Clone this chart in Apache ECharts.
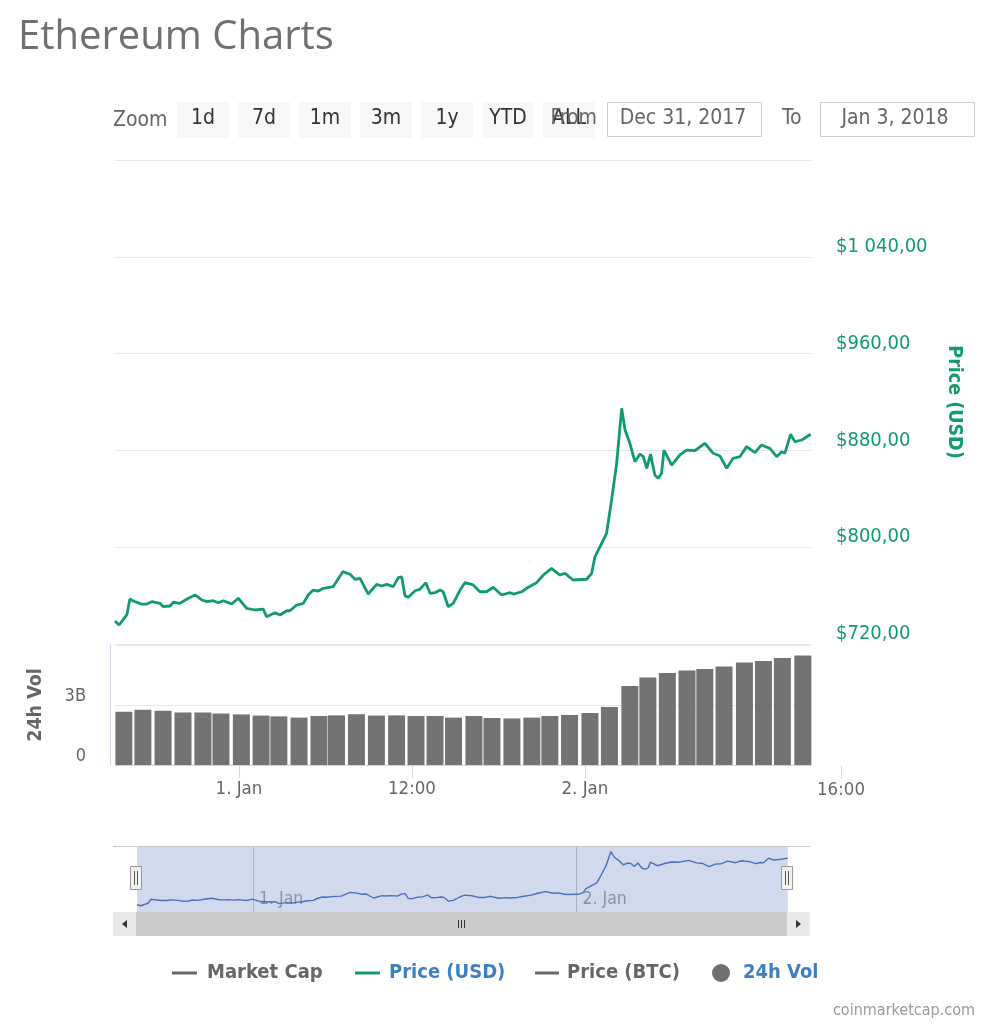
<!DOCTYPE html>
<html>
<head>
<meta charset="utf-8">
<script src="https://cdn.jsdelivr.net/npm/echarts@6/dist/echarts.min.js"></script>
<style>
html,body{margin:0;padding:0;background:#fff;}
#chart{width:991px;height:1024px;}
</style>
</head>
<body>
<div id="chart"></div>
<script>
// ---------- data ----------
const priceTimes = [
 '12-31 15:24','12-31 15:41','12-31 16:13','12-31 16:26','12-31 16:40','12-31 17:15','12-31 17:36','12-31 17:57','12-31 18:31','12-31 18:45','12-31 19:13','12-31 19:27','12-31 19:54','12-31 20:29','12-31 20:57','12-31 21:25','12-31 21:46','12-31 22:13','12-31 22:34','12-31 22:55','12-31 23:30','12-31 23:57',
 '01-01 00:32','01-01 01:07','01-01 01:41','01-01 01:55','01-01 02:30','01-01 02:51','01-01 03:19','01-01 03:32','01-01 04:00','01-01 04:28','01-01 04:48','01-01 05:09','01-01 05:30','01-01 05:51','01-01 06:32','01-01 07:12','01-01 07:42','01-01 08:03','01-01 08:24','01-01 08:58','01-01 09:33','01-01 09:54','01-01 10:15','01-01 10:42','01-01 11:03','01-01 11:17','01-01 11:31','01-01 11:45','01-01 12:13','01-01 12:33','01-01 12:58','01-01 13:15','01-01 13:36','01-01 13:57','01-01 14:10','01-01 14:31','01-01 14:52','01-01 15:20','01-01 15:41','01-01 16:15','01-01 16:43','01-01 17:11','01-01 17:38','01-01 18:13','01-01 18:48','01-01 19:02','01-01 19:37','01-01 20:04','01-01 20:39','01-01 21:07','01-01 21:41','01-01 22:16','01-01 22:37','01-01 23:11',
 '01-02 00:07','01-02 00:28','01-02 00:42','01-02 01:03','01-02 01:30','01-02 01:51','01-02 02:12','01-02 02:33','01-02 02:47','01-02 03:07','01-02 03:28','01-02 03:49','01-02 04:03','01-02 04:17','01-02 04:33','01-02 04:51','01-02 05:05','01-02 05:19','01-02 05:29','01-02 06:01','01-02 06:35','01-02 07:03','01-02 07:38','01-02 08:19','01-02 08:54','01-02 09:22','01-02 09:50','01-02 10:17','01-02 10:45','01-02 11:13','01-02 11:48','01-02 12:15','01-02 12:50','01-02 13:18','01-02 13:39','01-02 13:52','01-02 14:16','01-02 14:34','01-02 15:02','01-02 15:40'
];
const pricesUSD = [
 739, 735.7, 744, 757.2, 755.5, 753, 753, 755, 753.6, 750.8, 751.4, 754.5, 753.6, 757.8, 760.5, 756.4, 755, 755.8, 754.1, 755.8, 753, 757.8,
 749.5, 748.1, 748.9, 742.6, 745.9, 744, 747.5, 747.5, 752.2, 753.6, 760.5, 764.6, 763.8, 766, 767.4, 779.8, 777.6, 773.5, 774.3, 761.3, 769.3, 767.9, 769.3, 767.4, 774.8, 775.6, 759.9, 758.6, 764, 765.2, 770.7, 761.9, 762.4, 764.6, 763.2, 750.8, 753.6, 764.6, 770.7, 768.8, 763.2, 763.2, 766.9, 760.5, 762.4, 761.3, 763.2, 766.9, 770.7, 777, 782.5, 777, 778.4, 772.9,
 773.5, 778.4, 792.2, 800.4, 811.5, 839, 869.3, 914.8, 896.9, 885.9, 870.7, 877, 874.8, 865.2, 877, 859.7, 857, 861, 880.3, 867.9, 876.2, 880.3, 879.8, 885.9, 877.6, 875.4, 865.2, 873.5, 874.8, 883.1, 878.1, 884.5, 881.7, 874.8, 878.9, 877.6, 893.3, 887.2, 888.6, 893.3
];
const volTimes = [
 '12-31 16:01','12-31 17:20','12-31 18:44','12-31 20:07','12-31 21:30','12-31 22:45',
 '01-01 00:10','01-01 01:32','01-01 02:46','01-01 04:10','01-01 05:33','01-01 06:46','01-01 08:09','01-01 09:32','01-01 10:56','01-01 12:17','01-01 13:36','01-01 14:53','01-01 16:18','01-01 17:33','01-01 18:56','01-01 20:19','01-01 21:34','01-01 22:56',
 '01-02 00:21','01-02 01:42','01-02 03:07','01-02 04:22','01-02 05:43','01-02 07:05','01-02 08:19','01-02 09:39','01-02 11:04','01-02 12:23','01-02 13:42','01-02 15:07'
];
const volumesB = [
 2.66, 2.76, 2.71, 2.63, 2.63, 2.58,
 2.53, 2.47, 2.43, 2.37, 2.45, 2.48, 2.54, 2.47, 2.48, 2.45, 2.45, 2.37, 2.45, 2.35, 2.33, 2.37, 2.45, 2.5,
 2.6, 2.9, 3.95, 4.37, 4.6, 4.73, 4.8, 4.93, 5.13, 5.2, 5.35, 5.48
];
const xTicks = ['01-01 00:00','01-01 12:00','01-02 00:00'];
const xTickLabels = ['1. Jan','12:00','2. Jan'];
const navTicks = ['01-01 00:00','01-02 00:00'];
const navTickLabels = ['1. Jan','2. Jan'];
const rangeButtons = ['1d','7d','1m','3m','1y','YTD','ALL'];
const legendItems = ['Market Cap','Price (USD)','Price (BTC)','24h Vol'];

// ---------- helpers ----------
function T(s){
  const [md, hm] = s.split(' ');
  const [mo, d] = md.split('-').map(Number);
  const [h, mi] = hm.split(':').map(Number);
  return new Date(mo === 12 ? 2017 : 2018, mo - 1, d, h, mi).getTime();
}
const priceData = priceTimes.map((t, i) => [T(t), pricesUSD[i]]);
const volData = volTimes.map((t, i) => [T(t), volumesB[i]]);
const xTickVals = xTicks.map(T);
const navTickVals = navTicks.map(T);
function usd(v){
  const s = String(Math.round(v)).replace(/\B(?=(\d{3})+(?!\d))/g, '\u00a0');
  return '$' + s + ',00';
}
function labelFor(vals, labels){
  return v => { const i = vals.findIndex(t => Math.abs(t - v) < 1000); return i >= 0 ? labels[i] : ''; };
}

const GREEN = '#119c6f';
const BLUE = '#3e7fc1';
const FONT = 'DejaVu Sans Condensed, DejaVu Sans, sans-serif';
const xMin = T('12-31 15:24'), xMax = T('01-02 15:41');

const chart = echarts.init(document.getElementById('chart'), null, {renderer: 'canvas'});

// toolbar graphics
const g = [];
const TB = '21px ' + FONT;
g.push({type:'text', left:18, top:18, style:{text:'Ethereum Charts', fill:'#707070', font:'40px "Open Sans", sans-serif'}});
g.push({type:'text', x:113, y:121, style:{text:'Zoom', fill:'#666', font:TB, verticalAlign:'middle', align:'left'}});
rangeButtons.forEach((b, i) => {
  const x = 177 + i * 61;
  g.push({type:'rect', shape:{x:x, y:102, width:52, height:36}, style:{fill:'#f7f7f7'}});
  g.push({type:'text', x:x + 26, y:119, style:{text:b, fill:'#333', font:TB, align:'center', verticalAlign:'middle'}});
});
g.push({type:'text', x:597, y:119, style:{text:'From', fill:'#666', font:TB, align:'right', verticalAlign:'middle'}, z:10});
g.push({type:'rect', shape:{x:607.5, y:102.5, width:154, height:34}, style:{fill:'#fff', stroke:'#cccccc', lineWidth:1}});
g.push({type:'text', x:683, y:119, style:{text:'Dec 31, 2017', fill:'#666', font:TB, align:'center', verticalAlign:'middle'}});
g.push({type:'text', x:782, y:119, style:{text:'To', fill:'#666', font:TB, align:'left', verticalAlign:'middle'}});
g.push({type:'rect', shape:{x:820.5, y:102.5, width:154, height:34}, style:{fill:'#fff', stroke:'#cccccc', lineWidth:1}});
g.push({type:'text', x:895, y:119, style:{text:'Jan 3, 2018', fill:'#666', font:TB, align:'center', verticalAlign:'middle'}});

// the stray end label of the time axis
g.push({type:'line', shape:{x1:841.5, y1:766, x2:841.5, y2:779}, style:{stroke:'#ccd6eb', lineWidth:1}});
g.push({type:'text', x:841, y:790, style:{text:'16:00', fill:'#666', font:'18.5px ' + FONT, align:'center', verticalAlign:'middle'}});

// navigator frame, handles, scrollbar
g.push({type:'line', shape:{x1:113, y1:846.5, x2:810, y2:846.5}, style:{stroke:'#c8c8c8', lineWidth:1}, z:20});
[136, 787].forEach(hx => {
  g.push({type:'rect', shape:{x:hx - 5.5, y:866.5, width:11, height:23}, style:{fill:'#f2f2f2', stroke:'#999', lineWidth:1}, z:30});
  g.push({type:'line', shape:{x1:hx - 1.5, y1:871, x2:hx - 1.5, y2:885}, style:{stroke:'#555', lineWidth:1}, z:31});
  g.push({type:'line', shape:{x1:hx + 1.5, y1:871, x2:hx + 1.5, y2:885}, style:{stroke:'#555', lineWidth:1}, z:31});
});
g.push({type:'rect', shape:{x:113, y:912, width:697, height:24}, style:{fill:'#f2f2f2'}, z:20});
g.push({type:'rect', shape:{x:136, y:912, width:651, height:24}, style:{fill:'#cccccc'}, z:21});
g.push({type:'rect', shape:{x:113, y:912, width:23, height:24}, style:{fill:'#e8e8e8'}, z:21});
g.push({type:'rect', shape:{x:787, y:912, width:23, height:24}, style:{fill:'#e8e8e8'}, z:21});
g.push({type:'polygon', shape:{points:[[122,924],[127,920],[127,928]]}, style:{fill:'#333'}, z:22});
g.push({type:'polygon', shape:{points:[[801,924],[796,920],[796,928]]}, style:{fill:'#333'}, z:22});
[458.5, 461.5, 464.5].forEach(x => g.push({type:'line', shape:{x1:x, y1:920, x2:x, y2:928}, style:{stroke:'#333', lineWidth:1}, z:22}));

// legend
const legFont = 'bold 20px ' + FONT;
g.push({type:'line', shape:{x1:172, y1:973, x2:197, y2:973}, style:{stroke:'#666', lineWidth:3}});
g.push({type:'text', x:207, y:973, style:{text:legendItems[0], fill:'#666', font:legFont, verticalAlign:'middle'}});
g.push({type:'line', shape:{x1:355, y1:973, x2:380, y2:973}, style:{stroke:GREEN, lineWidth:3}});
g.push({type:'text', x:389, y:973, style:{text:legendItems[1], fill:BLUE, font:legFont, verticalAlign:'middle'}});
g.push({type:'line', shape:{x1:535, y1:973, x2:559, y2:973}, style:{stroke:'#666', lineWidth:3}});
g.push({type:'text', x:567, y:973, style:{text:legendItems[2], fill:'#666', font:legFont, verticalAlign:'middle'}});
g.push({type:'circle', shape:{cx:721, cy:973, r:9}, style:{fill:'#707070'}});
g.push({type:'text', x:743, y:973, style:{text:legendItems[3], fill:BLUE, font:legFont, verticalAlign:'middle'}});
g.push({type:'text', x:975, y:1011, style:{text:'coinmarketcap.com', fill:'#999', font:'16px ' + FONT, align:'right', verticalAlign:'middle'}});

const option = {
  animation: false,
  backgroundColor: '#fff',
  textStyle: {fontFamily: FONT},
  grid: [
    {left:115, right:180, top:160, height:484},
    {left:115, right:180, top:645, height:120},
    {left:113, right:181, top:847, height:65}
  ],
  xAxis: [
    {type:'value', gridIndex:0, min:xMin, max:xMax, show:false, splitLine:{show:false}},
    {type:'value', gridIndex:1, min:xMin, max:xMax,
     axisLine:{show:true, lineStyle:{color:'#ccd6eb'}},
     axisTick:{show:true, customValues:xTickVals, length:13, lineStyle:{color:'#ccd6eb'}},
     axisLabel:{customValues:xTickVals, color:'#666', fontSize:18.5, margin:15, fontFamily:FONT,
       formatter: labelFor(xTickVals, xTickLabels)},
     splitLine:{show:false}},
    {type:'value', gridIndex:2, min:T('12-31 13:37'), max:T('01-02 17:19'),
     axisLine:{show:false},
     axisTick:{show:true, customValues:navTickVals, inside:true, length:65, lineStyle:{color:'#c6c6c6'}},
     axisLabel:{customValues:navTickVals, inside:true, margin:4, align:'left', verticalAlign:'bottom',
       padding:[0,0,0,6], color:'#999', fontSize:17.5, fontFamily:FONT,
       formatter: labelFor(navTickVals, navTickLabels)},
     splitLine:{show:false}}
  ],
  yAxis: [
    {type:'value', gridIndex:0, position:'right', min:720, max:1120, interval:80,
     axisLine:{show:false}, axisTick:{show:false},
     splitLine:{show:true, lineStyle:{color:'#e6e6e6'}},
     axisLabel:{color:GREEN, fontSize:20, margin:25, align:'left', verticalAlign:'bottom', showMaxLabel:false, fontFamily:FONT,
       formatter: usd},
     name:'Price (USD)', nameLocation:'middle', nameRotate:-90, nameGap:133,
     nameTextStyle:{color:GREEN, fontWeight:'bold', fontSize:19.5, fontFamily:FONT}},
    {type:'value', gridIndex:1, position:'left', offset:5, min:0, max:6, interval:3,
     axisLine:{show:true, lineStyle:{color:'#ccd6eb'}}, axisTick:{show:false},
     splitLine:{show:true, lineStyle:{color:'#e6e6e6'}},
     axisLabel:{color:'#666', fontSize:18, margin:24, verticalAlign:'bottom', showMaxLabel:false, fontFamily:FONT,
       formatter: v => v === 0 ? '0' : v + 'B'},
     name:'24h Vol', nameLocation:'middle', nameRotate:90, nameGap:64,
     nameTextStyle:{color:'#666', fontWeight:'bold', fontSize:19.5, fontFamily:FONT}},
    {type:'value', gridIndex:2, min:715, max:930, show:false, splitLine:{show:false}}
  ],
  series: [
    {name:'Price (USD)', type:'line', xAxisIndex:0, yAxisIndex:0, data:priceData,
     showSymbol:false, lineStyle:{color:GREEN, width:2.8}, itemStyle:{color:GREEN}},
    {name:'24h Vol', type:'bar', xAxisIndex:1, yAxisIndex:1, data:volData,
     barWidth:17, itemStyle:{color:'#737373'}},
    {name:'Navigator', type:'line', xAxisIndex:2, yAxisIndex:2, data:priceData,
     showSymbol:false, lineStyle:{color:'#4a6fb8', width:1.4}, itemStyle:{color:'#4a6fb8'},
     markArea:{silent:true, itemStyle:{color:'rgba(102,133,194,0.3)'},
       data:[[{xAxis:priceData[0][0]},{xAxis:priceData[priceData.length-1][0]}]]}}
  ],
  graphic: g
};
chart.setOption(option);
</script>
</body>
</html>
